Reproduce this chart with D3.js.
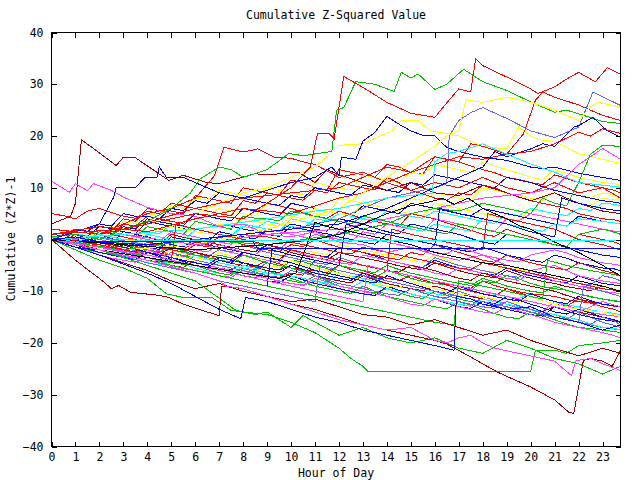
<!DOCTYPE html>
<html><head><meta charset="utf-8">
<script src="https://cdn.jsdelivr.net/npm/d3@7/dist/d3.min.js"></script>
<style>body{margin:0;background:#fff}</style>
</head><body><svg id="c" width="640" height="480"></svg>
<script>
// ---------- labels / ticks ----------
const titleText = "Cumulative Z-Squared Value";
const xLabelText = "Hour of Day";
const yLabelText = "Cumulative (Z*Z)-1";
const xTickValues = [0,1,2,3,4,5,6,7,8,9,10,11,12,13,14,15,16,17,18,19,20,21,22,23];
const yTickValues = [-40,-30,-20,-10,0,10,20,30,40];
const halfHours = [0,0.5,1,1.5,2,2.5,3,3.5,4,4.5,5,5.5,6,6.5,7,7.5,8,8.5,9,9.5,10,10.5,11,11.5,
  12,12.5,13,13.5,14,14.5,15,15.5,16,16.5,17,17.5,18,18.5,19,19.5,20,20.5,21,21.5,22,22.5,23,23.5,23.75];

// ---------- colours (gnuplot-like) ----------
const RED="#ff0000", GRN="#00c000", BLU="#0000ff", MAG="#ff40ff", CYN="#00ffff",
      DRD="#a00000", YEL="#ffff00", BLK="#000000", LBL="#6464ff";

// ---------- band series (values at each entry of `halfHours`) ----------
const bl01=[0,-0.6,-1,-1.4,-1.5,-1.9,-0.5,-1.3,-2,-2.6,-3,-3.3,-2.5,-3.2,-4,-4.6,-5,-5.3,-4,-4.7,-5.5,-5.9,-6,-6.4,-5,-5.8,-6.5,-7.1,-7.5,-7.9,-7,-7.8,-8.5,-8.6,-9,-9.4,-8,-8.9,-9.5,-10.1,-10.5,-10.7,-11,-11.6,-12,-12.2,-12.5,-12.9,-13];
const bl02=[0,-0.4,0.5,0.1,-0.5,-0.8,-1.5,-1.9,-1,-1.6,-2.5,-3.1,-3.5,-3.9,-3,-3.6,-4.5,-5.2,-5.5,-5.9,-4,-4.3,-5,-5.6,-6.5,-7.2,-7,-7.4,-6,-6.7,-7.5,-8.1,-8.5,-8.8,-9.5,-9.9,-8,-8.4,-7,-7.6,-8.5,-9.1,-9.5,-9.8,-10.5,-11.1,-11.5,-11.9,-12];
const bl03=[0,-0.4,1,0.6,2.5,2.1,1.5,1.1,3.5,3,2.5,2.1,1.5,1.1,3,2.6,2,1.6,1,0.6,2.5,2,1.5,1.1,0.5,0,-0.5,-0.9,1,0.5,0,-0.5,-1,-1.4,-2,-2.4,-1.5,-2.2,-3,-3.5,-4,-4.4,-3,-3.6,-4.5,-5,-5.5,-5.7,-6];
const bl04=[0,-0.8,-1.5,-2.1,-3,-3.6,-4,-4.4,-3.5,-4.2,-5,-5.6,-6,-6.4,-7,-7.3,-6,-6.8,-7.5,-8.1,-8.5,-8.9,-8,-8.7,-9.5,-10.1,-10.5,-10.9,-9,-9.8,-10.5,-11.1,-11.5,-12,-12.5,-12.9,-11,-11.8,-12.5,-13.1,-13.5,-13.9,-12,-12.8,-13.5,-14.1,-14.5,-14.8,-15];
const bl05=[0,-0.5,-1,-1.6,-2,-2.4,-3,-3.8,-4.5,-4.9,-4,-4.8,-5.5,-6.1,-6.5,-6.9,-5,-5.6,-6,-6.6,-7,-7.5,-8,-8.4,-6.5,-7.1,-7.5,-8.1,-8.5,-9.1,-9.5,-10,-10.5,-10.9,-9,-9.6,-10,-10.6,-11,-11.4,-10.5,-11.3,-12,-12.6,-13,-13.6,-14,-14.3,-14.5];
const bl06=[0,-0.3,0.5,0.1,1.5,1,0.5,0,-0.5,-0.9,1,0.4,0,-0.5,-1,-1.5,-2,-2.4,-1,-1.7,-2.5,-3.1,-3.5,-3.9,-2.5,-3.1,-3.5,-4,-4.5,-5.1,-5.5,-5.9,-4.5,-5.3,-6,-6.6,-7,-7.4,-6,-6.8,-7.5,-8.1,-8.5,-9.1,-9.5,-9.9,-9,-9.6,-10];
const bl07=[0,-0.3,1.5,1.1,3,2.5,2,1.6,4,3.5,3,2.6,5,4.6,6,5.5,5,4.6,7,6.5,6,5.5,5,4.6,8,7.5,7,6.5,6,5.5,5,4.6,7,6.5,6,5.5,5,4.5,4,3.6,6,5.5,5,4.6,7,6.6,8,7.6,8];
const bl08=[0,-0.6,-1,-1.5,-2,-2.4,-1.5,-2.2,-3,-3.5,-4,-4.4,-3,-3.8,-4.5,-5,-5.5,-5.9,-4.5,-5,-5.5,-6.2,-7,-7.6,-8,-8.4,-7,-7.7,-8.5,-9,-9.5,-10.3,-11,-11.3,-10,-10.8,-11.5,-12,-12.5,-13.3,-14,-14.6,-15,-15.4,-14,-15,-16,-16.6,-17];
const bl09=[0,-0.3,2,1.5,1,0.6,3,2.6,4.5,4,3.5,3.1,5,4.5,4,3.6,6,5.6,7,6.5,6,5.2,4.5,4.1,5.5,4.8,4,3.5,3,2.6,5,4.5,4,3.2,2.5,1.8,1,0.6,2,1.2,0.5,-0.3,-1,-1.4,1,0.5,0,-0.5,-1];
const bl10=[0,-0.3,-0.5,-1,-1.5,-2,-2.5,-2.9,-2,-2.8,-3.5,-4,-4.5,-5,-5.5,-6.3,-7,-7.4,-6,-6.8,-7.5,-8.3,-9,-9.5,-10,-10.4,-9,-10,-11,-11.5,-12,-12.5,-13,-13.4,-12,-12.7,-13.5,-14.3,-15,-15.3,-14,-14.8,-15.5,-16.3,-17,-17.2,-17.5,-17.8,-18];
const bl11=[0,-0.4,0,-0.3,1,0.2,-0.5,-1,-1.5,-1.9,0.5,0,-0.5,-1,-1.5,-2,-2.5,-2.9,-1,-1.5,-2,-2.5,-3,-3.4,-1.5,-2,-2.5,-3.2,-4,-4.5,-5,-5.4,-4,-4.8,-5.5,-6,-6.5,-6.9,-5.5,-6.3,-7,-7.5,-8,-8.4,-7,-7.8,-8.5,-8.8,-9];
const bl12=[0,-0.3,1,0.5,0,-0.5,-1,-1.5,-2,-2.4,-1,-1.3,-0.5,-1.2,-2,-2.5,-3,-3.5,-4,-4.4,-2,-2.8,-3.5,-4,-4.5,-4.8,-3,-3.5,-4,-4.5,-5,-5.8,-6.5,-6.9,-5.5,-6,-6.5,-7,-7.5,-7.9,-6.5,-7.2,-8,-8.5,-9,-9.5,-10,-10.3,-10.5];
const bl13=[0,-0.3,0.5,0.1,1.5,1.1,2.5,2,1.5,1.1,3,2.5,2,1.5,1,0.6,2.5,2.1,3.5,3,2.5,2.1,4,3.6,5,4.5,4,3.6,5.5,5,4.5,4.1,5.5,5,4.5,4,3.5,3.1,5,4.6,6,5.5,5,4.6,6,5.6,7,6.8,6.5];
const bl14=[0,-0.3,-0.5,-1.3,-2,-2.5,-3,-3.4,-2,-2.8,-3.5,-4,-4.5,-5,-5.5,-5.9,-4.5,-5.3,-6,-6.4,-5,-5.9,-7,-7.5,-8,-8.4,-7,-7.8,-8.5,-9,-9.5,-9.9,-9,-9.7,-10.5,-11,-11.5,-12,-12.5,-13,-13.5,-13.9,-13,-13.5,-14,-14.5,-15,-15.6,-16];
const bl15=[0,-0.5,-1,-1.4,-0.5,-1.2,-2,-2.5,-3,-3.4,-2,-2.7,-3.5,-3.9,-2.5,-3.2,-4,-4.4,-3,-3.5,-1.5,-2,-2.5,-2.9,-1,-1.5,-2,-2.5,-3,-3.5,-4,-4.4,-3,-3.9,-5,-5.5,-6,-6.3,-5,-5.7,-6.5,-7,-7.5,-8,-8.5,-8.8,-9,-9.5,-10];
const bl16=[0,-0.3,1,0.2,-0.5,-0.9,1.5,1,0.5,-0.2,-1,-1.4,0,-0.4,1.5,1,0.5,0.1,2,1.6,3,2.5,2,1.6,4,3.5,3,2.2,1.5,1.1,3,2.5,2,1.5,1,0.2,-0.5,-0.9,1,0.5,0,-0.5,-1,-1.5,-2,-2.5,-3,-3.3,-3.5];
const bl17=[0,-0.5,-1,-1.5,-2,-2.5,-3,-3.5,-4,-4.5,-5,-5.4,-4,-4.5,-5,-5.5,-6,-6.5,-7,-7.3,-6.5,-6.9,-4,-4.5,-5,-5.5,-6,-6.8,-7.5,-7.9,-7,-7.5,-8,-8.8,-9.5,-10,-10.5,-10.9,-9.5,-10.3,-11,-11.8,-12.5,-12.9,-11.5,-12.3,-13,-13.5,-14];
const bl18=[0,-0.3,0.5,0,-0.5,-1,-1.5,-1.9,-0.5,-1.3,-2,-2.5,-3,-3.3,-2,-2.4,-1,-1.8,-2.5,-3,-3.5,-4,-4.5,-4.8,-3.5,-4.2,-5,-5.5,-6,-6.3,-5,-5.4,-3.5,-4.3,-5,-5.5,-6,-6.5,-7,-7.3,-6,-6.8,-7.5,-8,-8.5,-8.8,-7,-7.5,-8];
const bl19=[0,-0.8,-1.5,-2,-2.5,-2.9,-2,-2.8,-3.5,-4,-4.5,-4.8,-5,-5.8,-6.5,-6.9,-5.5,-6.3,-7,-7.5,-8,-8.4,-7,-8,-9,-9.5,-10,-10.3,-9.5,-10.3,-11,-11.4,-10,-10.8,-11.5,-12,-12.5,-12.9,-12,-12.8,-13.5,-14,-14.5,-15.3,-16,-16.5,-17,-17.3,-17.5];
const bl20=[0,-0.4,0,-0.5,-1,-1.8,-2.5,-2.9,-1.5,-2.2,-3,-3.4,-2,-2.4,-1,-1.7,-2.5,-2.9,-1.5,-1.9,0,-0.4,1,0.5,0,-0.4,1.5,1,3,2.5,2,1.6,4,3.5,3,2.5,2,1.6,4,3.6,5,4.5,4,3.5,3,2.5,2,1.6,1.5];
const bl21=[0,-0.6,-1,-1.8,-2.5,-3,-3.5,-3.9,-2.5,-3.3,-4,-4.5,-5,-5.5,-6,-6.5,-7,-7.5,-8,-8.3,-7,-7.8,-8.5,-9,-9.5,-10,-10.5,-10.8,-9,-9.8,-10.5,-11,-11.5,-12.3,-13,-13.3,-12,-12.8,-13.5,-14,-14.5,-14.8,-13,-13.8,-14.5,-15,-15.5,-15.8,-16];
const bl22=[0,-0.3,-0.5,-0.8,-1,-1.5,-2,-2.5,-3,-3.5,-4,-4.4,-3,-3.8,-4.5,-5,-5.5,-6,-6.5,-6.8,-7,-7.5,-8,-8.5,-9,-9.4,-8,-8.8,-9.5,-10,-10.5,-11,-11.5,-12,-12.5,-12.8,-11.5,-12,-12.5,-13,-13.5,-14,-14.5,-15,-15.5,-16.3,-17,-17.2,-17.5];
const bl23=[0,-0.3,1,0.6,2,1.2,0.5,0,-0.5,-1,-1.5,-1.9,-0.5,-0.9,0.5,-0.2,-1,-1.5,-2,-2.4,-1,-1.4,0,-0.8,-1.5,-2,-2.5,-3,-3.5,-3.9,-2.5,-3,-1,-1.8,-2.5,-3.2,-4,-4.4,-3,-3.8,-4.5,-5,-5.5,-5.9,-4.5,-5.2,-6,-6.5,-7];
const bl24=[0,-0.5,-1,-1.4,-1.5,-2,-2.5,-3,-3.5,-3.9,-3,-3.5,-4,-4.5,-5,-5.5,-6,-6.4,-5,-5.4,-4,-4.8,-5.5,-6,-6.5,-7.2,-8,-8.6,-9,-9.3,-8,-8.8,-9.5,-10,-10.5,-10.8,-11,-11.5,-12,-12.3,-11,-11.8,-12.5,-13,-13.5,-13.8,-14,-14.5,-15];
const bl25=[0,-0.2,0.5,0.1,1.5,1.1,2.5,2,4,3.4,3,2.6,5,4.5,4,3.6,6,5.5,5,4.6,7,6.5,6,5.5,5,4.6,6.5,6,5.5,5,7,6.5,6,5.5,5,4.6,6,5.5,5,4.5,4,3.5,3,2.6,4.5,4,3.5,3.2,3];
const bl26=[0,-0.3,-0.5,-0.9,0.5,-0.2,-1,-1.5,-2,-2.4,-1.5,-2.2,-3,-3.5,-4,-4.3,-3,-3.8,-4.5,-5,-5.5,-6,-6.5,-6.9,-5,-5.5,-6,-6.4,-5,-5.8,-6.5,-7,-7.5,-8,-8.5,-8.9,-7.5,-8.2,-9,-9.5,-10,-10.3,-9,-9.8,-10.5,-11,-11.5,-11.8,-12];
const bl27=[0,-0.3,0.5,0,-0.5,-1,-1.5,-2,-2.5,-2.9,-1.5,-2,-2.5,-3,-3.5,-3.9,-2.5,-3,-3.5,-3.9,-2,-2.5,-3,-3.5,-4,-4.5,-5,-5.5,-6,-6.3,-5,-5.5,-6,-6.8,-7.5,-7.9,-6.5,-7.2,-8,-8.5,-9,-9.5,-10,-10.8,-11.5,-12,-12.5,-12.8,-13];
const bl28=[0,-0.5,-1,-1.5,-2,-2.5,-3,-3.4,-2,-2.8,-3.5,-4,-4.5,-5,-5.5,-6,-6.5,-7,-7.5,-8,-8.5,-8.8,-7.5,-8.2,-9,-9.5,-10,-10.5,-11,-11.8,-12.5,-12.8,-11.5,-12.2,-13,-13.5,-14,-14.3,-13,-13.8,-14.5,-15.2,-16,-16.5,-17,-17.5,-18,-18.6,-19];
const bl29=[0,-0.3,1,0.8,0.5,0,-0.5,-0.9,1,0.5,0,-0.4,2,1.5,1,0.6,3,2.5,2,1.5,4,3.5,3,2.5,2,1.6,4,3.8,3.5,2.8,2,1.6,3,2.5,2,1.6,4,3.5,3,2.5,2,1.6,3,2.6,4,3.8,3.5,3.2,3];
const bl30=[0,-0.2,-0.5,-1,-1.5,-1.9,-1,-1.8,-2.5,-3,-3.5,-4,-4.5,-4.9,-3.5,-4,-4.5,-5,-5.5,-5.9,-5,-5.8,-6.5,-7,-7.5,-7.9,-6.5,-7.3,-8,-8.5,-9,-9.5,-10,-10.4,-9,-9.8,-10.5,-11,-11.5,-11.9,-10.5,-11.3,-12,-12.4,-11,-11.8,-12.5,-12.8,-13];
const bl31=[0,-0.5,-1,-1.4,-0.5,-1.3,-2,-2.4,-1,-1.6,-2,-2.4,-1,-1.4,0,-0.4,1,0.7,0.5,0,-0.5,-1,-1.5,-2,-2.5,-2.8,-1.5,-2,-2.5,-3,-3.5,-4,-4.5,-5,-5.5,-5.8,-4.5,-5,-5.5,-6,-6.5,-7,-7.5,-8,-8.5,-9,-9.5,-9.8,-10];
const bl32=[0,-0.2,0.5,0.2,1,0.5,0,-0.3,1.5,2,2.5,2,1.5,1.1,3,2.6,4,3.5,3,2.6,4.5,4,6,5.5,5,4.6,7,6.5,6,5.6,8,7.5,9,8.6,8,7.6,10,9.5,9,8.5,8,7.6,9.5,9,8.5,8.1,9,8.6,8];
const bl33=[0,-0.8,-1.5,-1.8,-2,-2.5,-3,-3.5,-4,-4.4,-3.5,-4.2,-5,-5.4,-4,-4.6,-2.5,-3,-3.5,-4,-4.5,-5.2,-6,-6.5,-7,-7.5,-8,-8.4,-7,-7.8,-8.5,-9.2,-10,-10.5,-11,-11.5,-12,-12.4,-11,-11.7,-12.5,-13.2,-14,-14.4,-13.5,-14.2,-15,-15.5,-16];
const bl34=[0,-0.2,0.5,0.1,1.5,1,1,0.6,2.5,2,1.5,1,3.5,3,2.5,2,4.5,4.1,4,3.6,5.5,5,4.5,4,3.5,3,4.5,4,3.5,3,2.5,2,1.5,1.1,3,2.5,2,1.5,1,0.5,0,-0.5,-1,-1.3,1,1.5,2,1.4,1];
const bl35=[0,-0.2,-0.5,-1,-1.5,-2,-2.5,-3,-3.5,-3.9,-2.5,-3.2,-4,-4.5,-5,-5.5,-6,-6.5,-7,-7.4,-6,-6.5,-7,-7.8,-8.5,-9,-9.5,-10,-10.5,-10.8,-9.5,-10.3,-11,-11.5,-12,-12.5,-13,-13.3,-12,-12.8,-13.5,-14.3,-15,-15.5,-16,-16.4,-15,-15.8,-16.5];
const bl36=[0,-0.3,1,0.6,2,1.5,1,0.5,0,-0.4,1.5,1,0.5,0,-0.5,-0.9,1,0.5,2,1.5,1,0.5,0,-0.4,1.5,1,0.5,0,-0.5,-1,-1.5,-2,-2.5,-2.8,-1.5,-2.2,-3,-3.5,-4,-4.3,-3,-2.5,-2,-2.6,-3.5,-4,-4.5,-4.8,-5];
const u1=[0,-0.3,1,0.6,2,1.6,4,3.5,6,5.6,5.5,5,8.5,8,7.5,7,10,9.5,9,8.6,11.5,11,10,9.6,13.5,13,12.5,12,14.5,14,13,12.6,16,15.5,15,14.2,13.5,12.9,12,11.6,11,10.6,12.5,11.8,11,10.5,10,9.5,9];
const u2=[0,-0.3,0.5,0.2,2,1.6,3.5,3,5,4.6,6.5,6,8,7.6,9.5,9,8.5,8.1,10,9.5,9,8.6,11,10.5,10,9.6,12.5,12,11.5,11,13,12.5,14.5,14,13.5,13,15,14.2,13.5,12.8,12,11.6,13.5,12.8,12,11.5,11,10.8,10.5];
const u3=[1,0.7,2,1.6,3,2.6,5,4.5,4.5,4,6,5.6,7.5,7,9,8.5,8,7.5,7,6.6,8.5,8,10,9.5,9,8.6,10.5,10,9.5,9.1,11,10.5,12.5,12,11.5,11,10.5,10,12,11.5,11,10.2,9.5,9,8.5,8,7.5,7.2,7];
const u4=[5,4.6,4,5.5,6,5.2,4.5,4.1,5.5,5,7,6.5,6,5.5,5,4.6,7.5,7,9,8.5,8,7.6,9.5,9,11,10.5,10,9.6,12,11,9.5,8.8,8,7.6,9,8.6,10.5,10,9,8.2,7.5,7,6.5,6,5,4.5,4,3.8,3.5];

const bandSeries = [bl01,bl02,bl03,bl04,bl05,bl06,bl07,bl08,bl09,bl10,bl11,bl12,bl13,bl14,bl15,bl16,bl17,bl18,
  bl19,bl20,bl21,bl22,bl23,bl24,bl25,bl26,bl27,bl28,bl29,bl30,bl31,bl32,bl33,bl34,bl35,bl36,u1,u2,u3,u4];
const bandColors = [RED,GRN,BLU,MAG,CYN,DRD,YEL,LBL,RED,GRN,BLU,MAG,CYN,DRD,YEL,BLU,RED,LBL,
  GRN,MAG,BLU,CYN,RED,YEL,BLU,GRN,DRD,MAG,CYN,BLU,RED,YEL,BLU,GRN,LBL,MAG,RED,YEL,BLU,RED];

// ---------- detailed series ([hour, value] vertices) ----------
const dr1=[[0,3],[0.8,4.5],[1,7],[1.25,19.3],[2.7,14.3],[3,15.9],[3.5,15.8],[4.9,11.4],[5.5,12.4],[6.5,11],[7,10.8],[8.5,12.7],[9,12.5],[10.3,13],[11,11],[11.5,13.5],[12,12.5],[13,11],[14,9.5],[15,11],[16,9],[17,8.5],[18,10.5],[19,9],[20,7.5],[21,9],[22,7],[23,5.5],[23.75,5]];
const m1=[[0,11.3],[0.75,9.1],[1,10.8],[1.5,9.4],[1.75,10.8],[2.5,9.5],[3,8.2],[4,6.2],[5,5],[6,4.5],[7,2.5],[8,3],[9,1],[10,0.5],[11,1.5],[12,-0.5],[13,-1],[14,-2.5],[15,-1.5],[16,-3],[17,-4],[18,-3],[19,-5],[20,-6],[21,-5],[22,-7],[23,-8],[23.75,-8.5]];
const r1=[[0,2],[2,1],[4,3],[6,5],[8,4],[9,7],[10,10],[10.8,14],[11.1,20.4],[11.6,20.4],[11.8,19.5],[12.2,31.5],[13,29.4],[14,26.5],[15,24.4],[16,23.6],[16.5,26.4],[17,29.1],[17.5,28.5],[17.7,34.9],[18,33.6],[19,31.4],[20,29.1],[20.3,28.2],[21,29.5],[21.5,31],[22,32.3],[22.7,30.5],[23.2,33.2],[23.75,31.9]];
const g1=[[0,0.5],[1,1],[2,0],[3,2],[4,3.5],[5,6],[5.8,9],[6.2,11.7],[7,14],[7.5,13.5],[8,12],[9,13.5],[9.9,16.6],[10.5,16.2],[11.7,17],[11.9,25],[12.2,25.5],[12.7,30.5],[13.5,30],[14.3,28.6],[14.6,32.3],[15,31.2],[15.3,32],[16,29],[16.5,30],[17.2,32.9],[18,30.5],[19,28.8],[20,26.6],[21,24.6],[21.5,25],[22,24.3],[23,22.8],[23.75,22.4]];
const r2=[[0,1],[2,2.5],[4,1.5],[6,4],[8,6],[10,5],[12,8],[13,9],[14,11],[15,13],[16,14.5],[17,16],[18,15.5],[19,16.5],[19.7,20.4],[20.2,26.9],[20.5,28.5],[21,27.5],[22,26],[23,24],[23.75,23]];
const lb1=[[0,0],[2,0.5],[4,-1],[6,0],[8,1],[10,2],[12,4],[13,6],[14,8],[15,9],[16,10],[16.5,10.8],[16.6,20],[17,23],[17.5,24.5],[18,25.5],[19,23.4],[20,21],[21,19.7],[22,21.7],[22.6,28.5],[23.75,25.9]];
const y1=[[0,0],[3,-2],[6,-1],[9,2],[12,6],[14,12],[15,15],[16,18],[16.5,20],[17,21],[17.3,27],[18,26.5],[19,27.5],[20,26.5],[21,25],[22,23],[22.5,25.6],[22.8,26.5],[23.75,25.6]];
const y2=[[0,-0.5],[2,1],[4,3],[6,5],[8,9],[9,10],[10,12],[11,14],[11.5,16],[12,18.2],[13,18.5],[14.2,21],[14.6,23],[15.3,23],[15.8,21],[16.5,20.5],[17,20],[18,18],[19,17.5],[19.5,21.7],[20,20],[20.5,19.1],[21,19],[22,16.6],[23,15.5],[23.75,14.7]];
const b1=[[0,0],[1,1.5],[2,3],[2.6,8.2],[2.7,10.1],[3.5,10],[3.9,12],[4.4,12],[4.5,14],[4.8,12],[5.5,12],[6,11],[7,9],[8,8],[9,9.5],[10,11],[11,12],[11.7,14],[12,12.4],[12.1,15.9],[12.7,15.5],[13,19],[13.5,20.7],[14,23.8],[14.6,22],[15,21],[15.5,20.1],[16,20],[16.5,17.8],[17,17],[18,15.9],[19,15.3],[20,14],[20.5,13.7],[21,14],[22,12.8],[23,12],[23.75,11.4]];
const b2=[[0,0],[4,-1],[8,1],[12,3],[14,6],[15,8],[16,10],[17,12],[18,14],[18.5,17],[19,16],[20,17.5],[20.5,18.5],[21,18],[21.8,21.7],[22,22],[22.6,23.6],[23.2,21],[23.75,19.8]];
const r3=[[0,1],[3,2],[6,6],[8,8],[10,9],[12,10],[13,12],[14,14],[15,13],[16,16],[17,15],[17.5,18.5],[18,18],[19,16.5],[20,17],[21,18.5],[22,20.7],[22.5,20],[23,21.4],[23.75,20.5]];
const r4=[[0,0],[1,2],[2,1],[3,3],[4,5],[5,6],[6,8],[6.8,12.3],[7.2,17.8],[8,16.9],[8.6,17.5],[9.3,15.9],[10,15.7],[10.5,15],[11,14.5],[12,12],[13,13],[14,11],[15,9.5],[16,11],[17,10],[18,12],[19,10],[20,9],[21,11],[22,9],[23,10],[23.75,8]];
const m2=[[0,0],[3,1],[6,-1],[9,1],[12,2],[14,4],[16,6],[18,8],[20,9],[21,10],[22,14.5],[22.5,16],[23,17.6],[23.75,15.5]];
const g2=[[0,0],[3,-2],[6,0],[9,-1],[12,1],[14,3],[15,5],[16,6],[17,5.5],[18,7],[19,6],[20,5],[20.5,8],[21,7],[21.5,6.5],[22,11],[22.5,16.5],[23,18.2],[23.75,18]];
const c1=[[0,0],[3,1],[6,2],[9,4],[11,5.5],[12,6],[13,7],[14,8],[15,8.5],[15.9,9],[16,15],[16.5,16.6],[17,17],[18,18.5],[18.5,17.5],[19,16.5],[20,14.6],[21,13],[22,11],[23,10.5],[23.75,10.1]];
const blk1=[[0,0],[2,-2],[4,-3.5],[6,-5],[8,-6.5],[9.5,-7.5],[10.2,-6.5],[10.5,-3],[11,3.3],[11.5,2.5],[12,2],[13,1],[14,0],[15,-1],[16,-2.5],[17,-3.5],[18,-4.5],[19,-5],[20,-6],[21,-7],[22,-8],[23,-9],[23.75,-10]];
const blk2=[[0,0],[3,-1],[6,-2],[9,-1],[11,0],[12,1],[13,3],[14,5],[15,6.5],[16,7.5],[16.3,8],[16.8,6.8],[17.4,8],[18,6],[19,4],[19.5,2.7],[20,2],[21,-0.5],[22,-2.5],[23,-5],[23.75,-7]];
const gLow1=[[0,0],[1,-2],[2,-4],[3,-5.5],[4,-7.5],[4.8,-10.5],[5.5,-11.2],[6.7,-11.2],[7.5,-13.7],[8,-14],[9,-14.5],[10,-16],[11,-18],[12,-21],[12.5,-23],[13,-24.5],[13.2,-25.5],[20,-25.5],[20.2,-21.4],[21,-21.4],[21.5,-22],[22,-20.5],[23,-20],[23.75,-19.5]];
const gLow2=[[0,0],[2,-2],[4,-5],[6,-8],[7.7,-13.7],[8.5,-14.5],[9,-14],[10,-17],[10.5,-14.7],[12,-18.5],[13,-17],[14,-19],[15,-20],[16,-19],[17,-21],[18,-22],[19,-19.5],[20,-21],[21,-23],[22,-24],[23,-26],[23.75,-24.5]];
const drLow=[[0,0],[2,-3],[4,-6],[5,-8],[6,-9.5],[7,-8.5],[8,-10],[9,-11],[10,-12.5],[11,-13.5],[12,-15],[13,-16.5],[14,-17.5],[15,-18.5],[16,-19.5],[16.5,-20.2],[17.5,-22.7],[18.6,-25.6],[20,-28.5],[21,-31],[21.6,-33.4],[21.8,-33.6],[22.2,-23.4],[22.5,-23],[23,-23.5],[23.4,-24.5],[23.75,-21.4]];
const drLow2=[[0,0],[1,-4],[2.1,-7.9],[2.5,-9.5],[2.8,-8.9],[3.3,-10.2],[4.5,-10.8],[4.9,-11.2],[5.5,-12.5],[6.5,-14],[7,-14.7],[7.1,-9],[8,-9.5],[9,-11],[10,-12],[11,-11.5],[12,-13],[13,-14.5],[14,-15],[15,-16.5],[16,-15.5],[17,-17],[18,-18.5],[19,-17.5],[20,-19.5],[21,-21],[22,-22.5],[23,-21],[23.75,-22]];
const mLow=[[0,0],[2,-2],[4,-4],[6,-6.5],[7,-8],[7.3,-9],[8,-9.5],[9,-11],[10,-12.5],[11,-14],[12,-15.5],[13,-16.5],[14,-17.5],[15,-17],[16,-19.5],[16.5,-20],[17,-19],[17.5,-18.5],[18,-20],[18.5,-21],[19,-21.5],[20,-22.5],[21,-23.5],[21.7,-26.3],[21.9,-23.4],[22.5,-23],[23,-24],[23.75,-25.3]];
const bLow=[[0,0],[2,-3],[4,-6.5],[5,-8.5],[6,-11],[7,-13.5],[7.9,-15.3],[8.1,-11.2],[9,-12],[10,-13.5],[11,-15],[12,-16],[13,-17.5],[14,-18.5],[15,-19.5],[16,-20.5],[16.8,-21.4],[16.9,-11],[17.5,-11.5],[18,-12.5],[19,-13.5],[20,-13],[21,-15],[22,-16],[23,-17.5],[23.75,-16.5]];
const j1=[[0,0],[2,-2],[4,-4],[6,-6],[8,-8],[9,-9],[9.2,-2],[10,-3],[11,-4],[12,-5],[12.3,3],[13,2],[14,1],[15,0],[16,-1],[16.2,6],[17,5],[18,4],[19,3],[20,1.5],[21,0.5],[21.3,8],[22,7],[23,6],[23.75,5.5]];
const j2=[[0,0.5],[2,-1],[4,-3],[5,-4],[5.2,3],[6,2],[7,1],[8,0],[9,-1],[10,-2],[11,-3],[12,-4],[13,-5],[14,-6],[14.2,2],[15,1],[16,0],[17,-1],[18,-2],[18.2,5],[19,4],[20,3],[21,2],[22,0],[23,-1],[23.75,-2]];
const j3=[[0,0],[3,-3],[6,-6],[8,-8],[10,-10],[12,-12],[13,-13],[14,-14],[15,-15],[16,-16],[16.8,-16.5],[17,-8],[18,-9],[19,-10],[20,-11],[20.5,-11.5],[20.7,-4],[21.5,-5],[22.5,-6],[23.75,-7]];
const j4=[[0,0],[2,-2],[4,-4.5],[5,-5.5],[6,-6.5],[7,-8],[8,-9],[9,-10],[10,-11],[11,-12],[11.2,-5],[12,-6],[13,-7],[14,-8],[15,-9],[16,-10],[17,-11],[18,-12],[19,-13],[20,-14],[21,-15],[22,-16],[22.2,-9],[23,-10],[23.75,-11]];
const j5=[[0,0],[2,-1.5],[4,-3],[6,-5],[8,-7],[10,-9],[12,-11],[13,-12],[13.2,-5],[14,-6],[15,-7],[16,-8],[17,-9],[18,-10],[19,-11],[20,-12],[21,-13],[22,-14],[23,-12],[23.75,-13]];
const cFlat=[[0,0.5],[1,-0.5],[2,1],[3,0],[3.5,-0.1],[23.75,-0.1]];
const bFlat=[[0,0],[1,0.5],[1.8,-0.3],[8.4,-0.3],[8.6,-1.8],[23.75,-1.8]];

const detailSeries = [dr1,m1,r4,g1,y2,b1,r2,lb1,y1,b2,r3,m2,g2,c1,r1,j1,j2,j3,j4,j5,blk1,blk2,gLow1,gLow2,drLow,drLow2,mLow,bLow,cFlat,bFlat];
const detailColors = [DRD,MAG,RED,GRN,YEL,BLU,RED,LBL,YEL,BLU,RED,MAG,GRN,CYN,RED,BLU,RED,GRN,LBL,MAG,BLK,BLK,GRN,GRN,DRD,DRD,MAG,BLU,CYN,BLU];

// ---------- drawing ----------
const W=640,H=480, L=51.5, R=620.5, T=32.5, B=446.5;
const svg=d3.select("#c");
svg.append("rect").attr("width",W).attr("height",H).attr("fill","#fff");
const x=d3.scaleLinear().domain([0,23.75]).range([L,R]);
const y=d3.scaleLinear().domain([-40,40]).range([B,T]);
const FONT="'DejaVu Sans Mono', 'Liberation Mono', monospace";

const plot=svg.append("g");
const line=d3.line().x(d=>x(d[0])).y(d=>y(d[1]));
bandSeries.forEach((vals,i)=>{
  const n=Math.min(vals.length,halfHours.length);
  const pts=vals.slice(0,n).map((v,j)=>[halfHours[j],v]);
  plot.append("path").attr("d",line(pts)).attr("fill","none")
    .attr("stroke",bandColors[i]).attr("stroke-width",1).attr("shape-rendering","crispEdges");
});
detailSeries.forEach((pts,i)=>{
  plot.append("path").attr("d",line(pts)).attr("fill","none")
    .attr("stroke",detailColors[i]).attr("stroke-width",1).attr("shape-rendering","crispEdges");
});

// axes (ticks inward, mirrored)
function styleAxis(g){
  g.select(".domain").remove();
  g.selectAll("line").attr("stroke","#000").attr("shape-rendering","crispEdges");
  g.selectAll("text").attr("font-family",FONT).attr("font-size","11.5px").attr("fill","#000");
}
svg.append("g").attr("transform",`translate(0,${B})`)
  .call(d3.axisBottom(x).tickValues(xTickValues).tickSize(-5).tickPadding(6).tickFormat(d3.format("d")))
  .call(styleAxis);
svg.append("g").attr("transform",`translate(0,${T})`)
  .call(d3.axisTop(x).tickValues(xTickValues).tickSize(-5).tickFormat(""))
  .call(styleAxis);
svg.append("g").attr("transform",`translate(${L},0)`)
  .call(d3.axisLeft(y).tickValues(yTickValues).tickSize(-5).tickPadding(8).tickFormat(d3.format("d")))
  .call(styleAxis);
svg.append("g").attr("transform",`translate(${R},0)`)
  .call(d3.axisRight(y).tickValues(yTickValues).tickSize(-5).tickFormat(""))
  .call(styleAxis);

svg.append("rect").attr("x",L).attr("y",T).attr("width",R-L).attr("height",B-T)
  .attr("fill","none").attr("stroke","#000").attr("shape-rendering","crispEdges");

svg.append("text").attr("x",336).attr("y",19).attr("text-anchor","middle")
  .attr("font-family",FONT).attr("font-size","11.5px").text(titleText);
svg.append("text").attr("x",336).attr("y",477).attr("text-anchor","middle")
  .attr("font-family",FONT).attr("font-size","11.5px").text(xLabelText);
svg.append("text").attr("transform","translate(15,239) rotate(-90)").attr("text-anchor","middle")
  .attr("font-family",FONT).attr("font-size","11.5px").text(yLabelText);
</script></body></html>
